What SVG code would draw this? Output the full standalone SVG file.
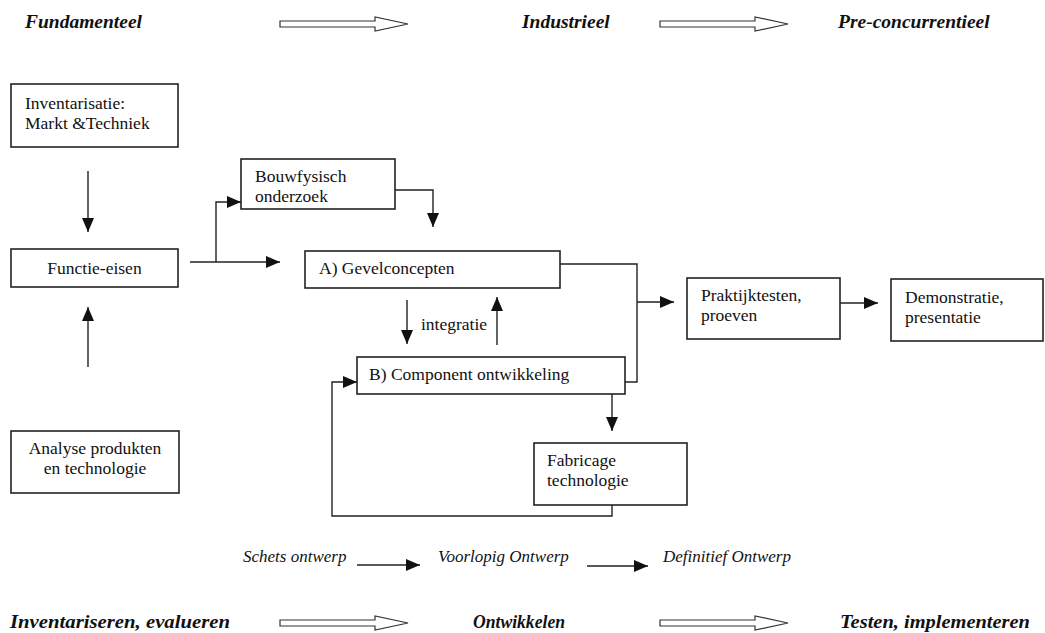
<svg xmlns="http://www.w3.org/2000/svg" width="1045" height="633" viewBox="0 0 1045 633">
<defs>
<marker id="ah" viewBox="0 0 14 12" refX="14" refY="6" markerWidth="14" markerHeight="12" markerUnits="userSpaceOnUse" orient="auto">
<path d="M0,0 L14,6 L0,12 Z" fill="#111"/>
</marker>
<style>
.bx{fill:#fff;stroke:#222;stroke-width:1.6}
text{font-family:'Liberation Serif','Times New Roman','DejaVu Serif',serif;fill:#111}
.t{font-size:17.5px}
.h{font-size:19.5px;font-weight:bold;font-style:italic}
.i{font-size:17px;font-style:italic}
.c{fill:none;stroke:#222;stroke-width:1.4}
.ca{fill:none;stroke:#222;stroke-width:1.4;marker-end:url(#ah)}
.ho{fill:#fff;stroke:#333;stroke-width:1.2}
</style>
</defs>
<rect width="1045" height="633" fill="#fff"/>

<g id="phase-top">
<text class="h" x="25" y="28">Fundamenteel</text>
<text class="h" x="522" y="28">Industrieel</text>
<text class="h" x="838" y="28">Pre-concurrentieel</text>
</g>
<g id="phase-bottom">
<text class="h" x="10" y="628" textLength="220" lengthAdjust="spacingAndGlyphs">Inventariseren, evalueren</text>
<text class="h" x="473" y="628" textLength="92" lengthAdjust="spacingAndGlyphs">Ontwikkelen</text>
<text class="h" x="840" y="628" textLength="190" lengthAdjust="spacingAndGlyphs">Testen, implementeren</text>
</g>
<g id="design-stages">
<text class="i" x="243" y="562">Schets ontwerp</text>
<text class="i" x="438" y="562">Voorlopig Ontwerp</text>
<text class="i" x="663" y="562">Definitief Ontwerp</text>
</g>

<g id="hollow-arrows">
<path class="ho" d="M280,21 L375,21 L375,17 L408,24 L375,31 L375,27 L280,27 Z"/>
<path class="ho" d="M660,21 L755,21 L755,17 L788,24 L755,31 L755,27 L660,27 Z"/>
<path class="ho" d="M280,620 L375,620 L375,616 L408,623 L375,630 L375,626 L280,626 Z"/>
<path class="ho" d="M660,620 L755,620 L755,616 L788,623 L755,630 L755,626 L660,626 Z"/>
</g>

<g id="inventarisatie">
<rect class="bx" x="11" y="84" width="167" height="63"/>
<text class="t" x="25" y="109">Inventarisatie:</text>
<text class="t" x="25" y="129">Markt &amp;Techniek</text>
</g>
<g id="functie-eisen">
<rect class="bx" x="11" y="249" width="167" height="38"/>
<text class="t" x="94.5" y="274" text-anchor="middle">Functie-eisen</text>
</g>
<g id="analyse">
<rect class="bx" x="11" y="431" width="168" height="62"/>
<text class="t" x="95" y="454" text-anchor="middle">Analyse produkten</text>
<text class="t" x="95" y="474" text-anchor="middle">en technologie</text>
</g>
<g id="bouwfysisch">
<rect class="bx" x="241" y="159" width="154" height="50"/>
<text class="t" x="255" y="182">Bouwfysisch</text>
<text class="t" x="255" y="202">onderzoek</text>
</g>
<g id="gevelconcepten">
<rect class="bx" x="305" y="251" width="255" height="37"/>
<text class="t" x="319" y="274">A) Gevelconcepten</text>
</g>
<g id="component">
<rect class="bx" x="357" y="357" width="268" height="37"/>
<text class="t" x="369" y="380">B) Component ontwikkeling</text>
</g>
<g id="fabricage">
<rect class="bx" x="534" y="443" width="153" height="62"/>
<text class="t" x="547" y="466">Fabricage</text>
<text class="t" x="547" y="486">technologie</text>
</g>
<g id="praktijktesten">
<rect class="bx" x="687" y="278" width="153" height="61"/>
<text class="t" x="701" y="301">Praktijktesten,</text>
<text class="t" x="701" y="321">proeven</text>
</g>
<g id="demonstratie">
<rect class="bx" x="891" y="279" width="152" height="62"/>
<text class="t" x="905" y="303">Demonstratie,</text>
<text class="t" x="905" y="323">presentatie</text>
</g>
<g id="label-integratie">
<text class="t" x="421" y="330">integratie</text>
</g>

<g id="connectors">
<path class="ca" d="M88,171 L88,232"/>
<path class="ca" d="M88,367 L88,307"/>
<path class="ca" d="M190,262 L280,262"/>
<path class="ca" d="M216,262 L216,202 L241,202"/>
<path class="ca" d="M395,190 L433,190 L433,227"/>
<path class="c" d="M560,264 L637,264 L637,382 L625,382"/>
<path class="ca" d="M637,302 L674,302"/>
<path class="ca" d="M840,303 L878,303"/>
<path class="ca" d="M407,300 L407,344"/>
<path class="ca" d="M497,345 L497,297"/>
<path class="ca" d="M612,394 L612,431"/>
<path class="ca" d="M612,505 L612,516 L332,516 L332,382 L357,382"/>
<path class="ca" d="M357,565 L420,565"/>
<path class="ca" d="M587,566 L648,566"/>
</g>
</svg>
